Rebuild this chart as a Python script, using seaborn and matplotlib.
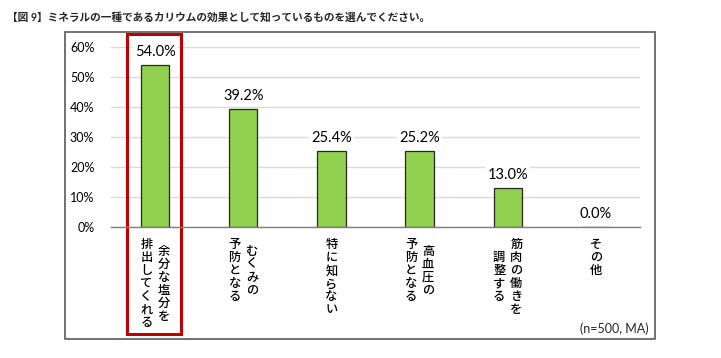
import matplotlib
matplotlib.use("Agg")
import matplotlib.pyplot as plt
import matplotlib.transforms as mtransforms
from matplotlib.patches import Rectangle
import seaborn as sns
import pandas as pd

title = "【図 9】ミネラルの一種であるカリウムの効果として知っているものを選んでください。"
# "\n" separates the vertical columns (first line = rightmost column)
choices = ["余分な塩分を\n排出してくれる", "むくみの\n予防となる", "特に知らない",
           "高血圧の\n予防となる", "筋肉の働きを\n調整する", "その他"]
shares = [54.0, 39.2, 25.4, 25.2, 13.0, 0.0]
yticks = [0, 10, 20, 30, 40, 50, 60]
note = "(n=500, MA)"

sns.set_theme(style="white")
plt.rcParams['font.family'] = ['Lato', 'Noto Sans CJK JP', 'DejaVu Sans']

df = pd.DataFrame({"choice": choices, "share": shares})

W, H = 721, 358
fig = plt.figure(figsize=(W / 100, H / 100), dpi=100)
ax = fig.add_axes([111 / W, 1 - 227 / H, (640 - 111) / W, (227 - 47) / H])

sns.barplot(data=df, x="choice", y="share", color="#92D050", width=0.32,
            edgecolor="#262626", linewidth=0.9, saturation=1, ax=ax)

ax.set_ylim(0, 60)
ax.set_yticks(yticks)
ax.set_yticklabels([f"{t}%" for t in yticks])
ax.set_axisbelow(True)
ax.yaxis.grid(True, color="#D9D9D9", lw=1)
ax.xaxis.grid(False)
sns.despine(ax=ax, left=True)
ax.spines['bottom'].set_color("#7f7f7f")
ax.spines['bottom'].set_linewidth(1)
ax.tick_params(axis='y', length=0, pad=12, labelsize=9, labelcolor="black")
ax.tick_params(axis='x', length=0)
ax.set_xticklabels([])
ax.set_xlabel("")
ax.set_ylabel("")

# value labels
for i, v in enumerate(shares):
    ax.annotate(f"{v:.1f}%", xy=(i, v), xytext=(0, 9.5), textcoords="offset points",
                ha="center", va="center", fontsize=10.5, color="black",
                bbox=dict(boxstyle="square,pad=0.15", fc="white", ec="none"),
                annotation_clip=False)

# vertical (tategaki) category labels
pitch = 9.4
top = 12.6
colgap = 12.4
for i, lab in enumerate(choices):
    cols = lab.split("\n")
    m = max(len(c) for c in cols)
    ncol = len(cols)
    for j, col in enumerate(cols):
        dx = (ncol - 1) / 2 * colgap - j * colgap
        for k, ch in enumerate(col):
            dy = -(top + ((m - len(col)) / 2 + k) * pitch)
            ax.annotate(ch, xy=(i, 0), xytext=(dx, dy), textcoords="offset points",
                        ha="center", va="center", fontsize=8.8, fontweight="medium",
                        color="black", annotation_clip=False)

# highlight box around first category
blend = mtransforms.blended_transform_factory(ax.transData, fig.transFigure)
ax.add_patch(Rectangle((-0.318, 1 - 334 / H), 0.613, (334 - 34) / H, transform=blend,
                       fill=False, ec="#C00000", lw=2.2, clip_on=False))

# outer frame
fig.patches.append(Rectangle((65 / W, 1 - 339 / H), (655 - 65) / W, (339 - 32) / H,
                             transform=fig.transFigure, fill=False, ec="#595959", lw=1.2))

fig.text(7 / W, 1 - 17 / H, title, ha="left", va="center", fontsize=7.7, fontweight="bold")
fig.text(649 / W, 1 - 329 / H, note, ha="right", va="center", fontsize=9)

fig.savefig("out.png", dpi=100)
